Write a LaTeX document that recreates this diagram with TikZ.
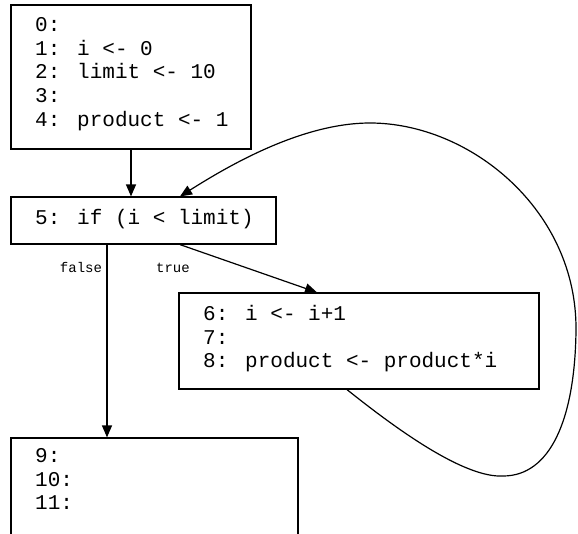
\documentclass[tikz,border=0pt]{standalone}
\usepackage{fontspec}
\newfontfamily\codefont{Liberation Mono}
\usetikzlibrary{arrows.meta}
\tikzset{
  blk/.style={draw=black, line width=1.2pt, rectangle, inner sep=0pt},
  code/.style={font=\codefont\fontsize{21}{23.75}\selectfont, align=left, inner sep=0pt, anchor=north west},
  lbl/.style={font=\codefont\fontsize{14}{16}\selectfont, inner sep=0pt, anchor=base},
  arr/.style={line width=1.2pt, -{Triangle[length=12pt,width=10pt]}}
}
\begin{document}
\begin{tikzpicture}[x=1pt,y=-1pt]
\clip (0,0) rectangle (578,533);
\fill[white] (0,0) rectangle (578,533);
% boxes
\node[blk, minimum width=240pt, minimum height=144pt] (A) at (131,77) {};
\node[blk, minimum width=265pt, minimum height=47pt] (B) at (143.5,220.5) {};
\node[blk, minimum width=360pt, minimum height=96pt] (C) at (359,341) {};
\node[blk, minimum width=287pt, minimum height=104pt] (D) at (154.5,490) {};
% texts
\node[code] (At) at (35,17) {0:\\1: i <- 0\\2: limit <- 10\\3:\\4: product <- 1};
\node[code] (Bt) at (35,209) {5: if (i < limit)};
\node[code] (Ct) at (203,305) {6: i <- i+1\\7:\\8: product <- product*i};
\node[code] (Dt) at (35,448) {9:\\10:\\11:};
% edges
\draw[arr] (A.south) -- (A.south |- B.north);
\draw[arr] ([xshift=-36.5pt]B.south) -- ([xshift=-36.5pt]B.south |- D.north);
\draw[arr] ([xshift=36.5pt]B.south) -- ([xshift=-42pt]C.north);
\draw[arr] ([xshift=-12pt]C.south) .. controls (400,432) and (465,478) .. (503,476)
  .. controls (550,476) and (575,420) .. (576,330)
  .. controls (577,210) and (470,123) .. (370,123)
  .. controls (300,123) and (225,168) .. ([xshift=36.5pt]B.north);
% labels
\node[lbl] (lf) at (81,272) {false};
\node[lbl] (lt) at (173,272) {true};
\end{tikzpicture}
\end{document}
